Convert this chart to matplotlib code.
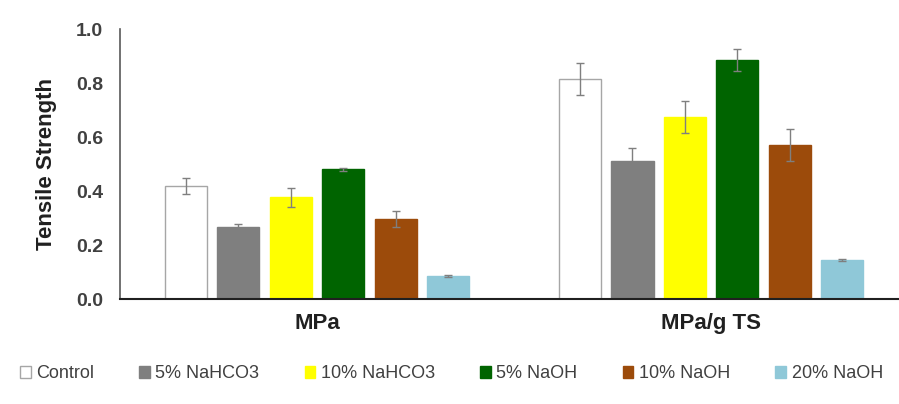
import matplotlib.pyplot as plt
import numpy as np

# data
categories = ['MPa', 'MPa/g TS']
treatments = ['Control', '5% NaHCO3', '10% NaHCO3', '5% NaOH', '10% NaOH', '20% NaOH']
values = [
    [0.42, 0.815],
    [0.267, 0.511],
    [0.377, 0.674],
    [0.480, 0.885],
    [0.296, 0.570],
    [0.085, 0.144],
]
errors = [
    [0.03, 0.06],
    [0.01, 0.05],
    [0.035, 0.06],
    [0.005, 0.04],
    [0.03, 0.06],
    [0.003, 0.003],
]
colors = ['white', '#7f7f7f', '#ffff00', '#006400', '#9c4b0b', '#8fc8d8']
edges = ['#a6a6a6', '#7f7f7f', '#ffff00', '#006400', '#9c4b0b', '#8fc8d8']

plt.rcParams['font.family'] = ['Liberation Sans', 'DejaVu Sans']

fig = plt.figure(figsize=(8.99, 4.04), dpi=100)
ax = fig.add_axes([120 / 899, 1 - 299 / 404, 779 / 899, 270 / 404])

x = np.arange(len(categories))
pitch = 0.133
width = 0.107
for i, name in enumerate(treatments):
    pos = x + (i - 2.5) * pitch
    ax.bar(pos, values[i], width, color=colors[i], edgecolor=edges[i],
           linewidth=1.0, label=name, zorder=2)
    ax.errorbar(pos, values[i], yerr=errors[i], fmt='none', ecolor='#7f7f7f',
                elinewidth=1.0, capsize=3, capthick=1.0, zorder=3)

ax.set_xlim(-0.5, 1.477)
ax.set_ylim(0, 1.0)
ax.set_yticks([0, 0.2, 0.4, 0.6, 0.8, 1.0])
ax.set_yticklabels(['0.0', '0.2', '0.4', '0.6', '0.8', '1.0'])
ax.set_xticks(x)
ax.set_xticklabels(categories)
for lab in ax.get_yticklabels():
    lab.set_fontweight('bold')
    lab.set_fontsize(14)
    lab.set_color('#404040')
for lab in ax.get_xticklabels():
    lab.set_fontweight('bold')
    lab.set_fontsize(16)
    lab.set_color('#202020')
ax.tick_params(axis='y', length=0, pad=12)
ax.tick_params(axis='x', length=0, pad=10)

ax.spines['top'].set_visible(False)
ax.spines['right'].set_visible(False)
ax.spines['left'].set_color('#595959')
ax.spines['left'].set_linewidth(1.2)
ax.spines['bottom'].set_color('#202020')
ax.spines['bottom'].set_linewidth(1.5)

ax.set_ylabel('Tensile Strength', fontsize=16, fontweight='bold', color='#202020', labelpad=14)

leg = fig.legend(loc='center', bbox_to_anchor=(0.502, 1 - 374 / 404), ncol=6, frameon=False,
                 fontsize=13, handlelength=0.6, handleheight=0.6, handletextpad=0.3,
                 columnspacing=2.5, labelcolor='#404040')

fig.savefig('out.png', dpi=100)
